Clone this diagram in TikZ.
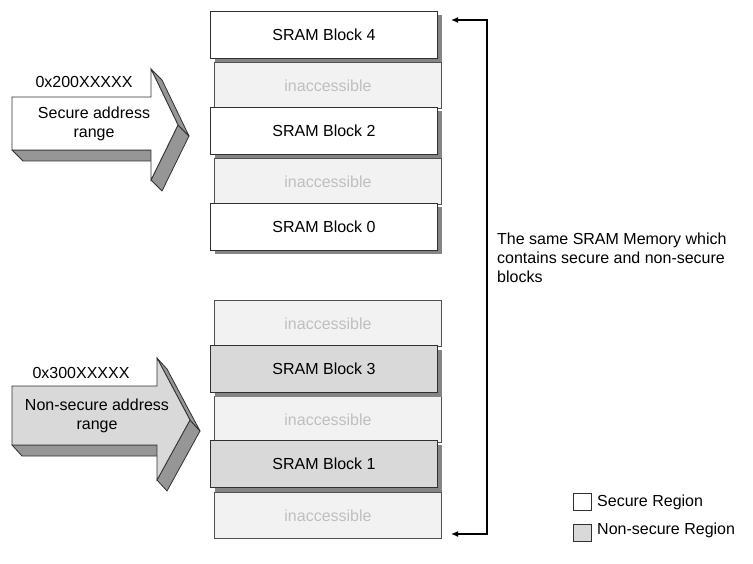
\documentclass[tikz,border=0pt]{standalone}
\usepackage{fontspec}
\setmainfont{Liberation Sans}
\usetikzlibrary{shadows,arrows.meta}
\definecolor{nsfill}{HTML}{D9D9D9}
\definecolor{inafill}{HTML}{F2F2F2}
\definecolor{inatext}{HTML}{BFBFBF}
\definecolor{inaline}{HTML}{505050}
\definecolor{shgray}{HTML}{858585}
\definecolor{sidegray}{HTML}{969696}
\definecolor{edge}{HTML}{303030}
\tikzset{
  txt/.style={font=\fontsize{16}{19}\selectfont, inner sep=0pt},
  sram/.style={txt, draw=edge, line width=1pt, minimum width=227pt, minimum height=47pt,
    anchor=north west, general shadow={shadow xshift=4pt, shadow yshift=-4pt, fill=shgray}},
  secblk/.style={sram, fill=white},
  nsblk/.style={sram, fill=nsfill},
  inablk/.style={txt, draw=inaline, line width=1pt, fill=inafill, text=inatext,
    minimum width=227pt, minimum height=46pt, anchor=north west},
  side/.style={fill=sidegray, draw=edge, line width=0.8pt, line join=round},
  front/.style={draw=edge, line width=0.8pt, line join=miter},
  brk/.style={line width=1.6pt, {Latex[length=7pt,width=6pt]}-{Latex[length=7pt,width=6pt]}},
  legsq/.style={draw=edge, line width=0.8pt, minimum width=18pt, minimum height=17pt, inner sep=0pt},
}
\begin{document}
\begin{tikzpicture}[x=1pt,y=-1pt]
\useasboundingbox (0,0) rectangle (753,564);

% inaccessible blocks (behind)
\node[inablk] (i1) at (214,62) {inaccessible};
\node[inablk] (i2) at (214,158) {inaccessible};
\node[inablk] (i3) at (214,300) {inaccessible};
\node[inablk] (i4) at (214,396) {inaccessible};
\node[inablk] (i5) at (214,492) {inaccessible};

% SRAM blocks
\node[secblk] (b4) at (210,11) {SRAM Block 4};
\node[secblk] (b2) at (210,107) {SRAM Block 2};
\node[secblk] (b0) at (210,203) {SRAM Block 0};
\node[nsblk] (b3) at (210,345) {SRAM Block 3};
\node[nsblk] (b1) at (210,440) {SRAM Block 1};

% secure address arrow
\filldraw[side] (12,150) -- (151,150) -- (162,161) -- (23,161) -- cycle;
\filldraw[side] (178,125) -- (151,180) -- (162,191) -- (189,136) -- cycle;
\filldraw[side] (151,69) -- (178,125) -- (189,136) -- (162,80) -- cycle;
\filldraw[front, fill=white] (12,97) -- (151,97) -- (151,69) -- (178,125) -- (151,180) -- (151,150) -- (12,150) -- cycle;
\node[txt] (saddr) at (84,82) {0x200XXXXX};
\node[txt, align=center] (slab) at (94,124) {Secure address\\range};

% non-secure address arrow
\filldraw[side] (12,445) -- (157,445) -- (167,456) -- (22,456) -- cycle;
\filldraw[side] (190,420) -- (157,480) -- (167,491) -- (200,431) -- cycle;
\filldraw[side] (157,358) -- (190,420) -- (200,431) -- (167,369) -- cycle;
\filldraw[front, fill=nsfill] (12,386) -- (157,386) -- (157,358) -- (190,420) -- (157,480) -- (157,445) -- (12,445) -- cycle;
\node[txt] (naddr) at (81,373) {0x300XXXXX};
\node[txt, align=center] (nlab) at (97,415.5) {Non-secure address\\range};

% bracket
\coordinate (ta) at (451,20);
\coordinate (tc) at (487,20);
\coordinate (bc) at (487,534);
\coordinate (ba) at (451,534);
\draw[brk] (ta) -- (tc) -- (bc) -- (ba);
\node[txt, align=left, anchor=north west] (desc) at (497,233)
  {The same SRAM Memory which\\contains secure and non-secure\\blocks};

% legend
\node[legsq, fill=white] (ls) at (582,501.5) {};
\node[legsq, fill=nsfill] (ln) at (582,532.5) {};
\node[txt, anchor=west] (lst) at (597,502.5) {Secure Region};
\node[txt, anchor=west] (lnt) at (597,530.5) {Non-secure Region};
\end{tikzpicture}
\end{document}
